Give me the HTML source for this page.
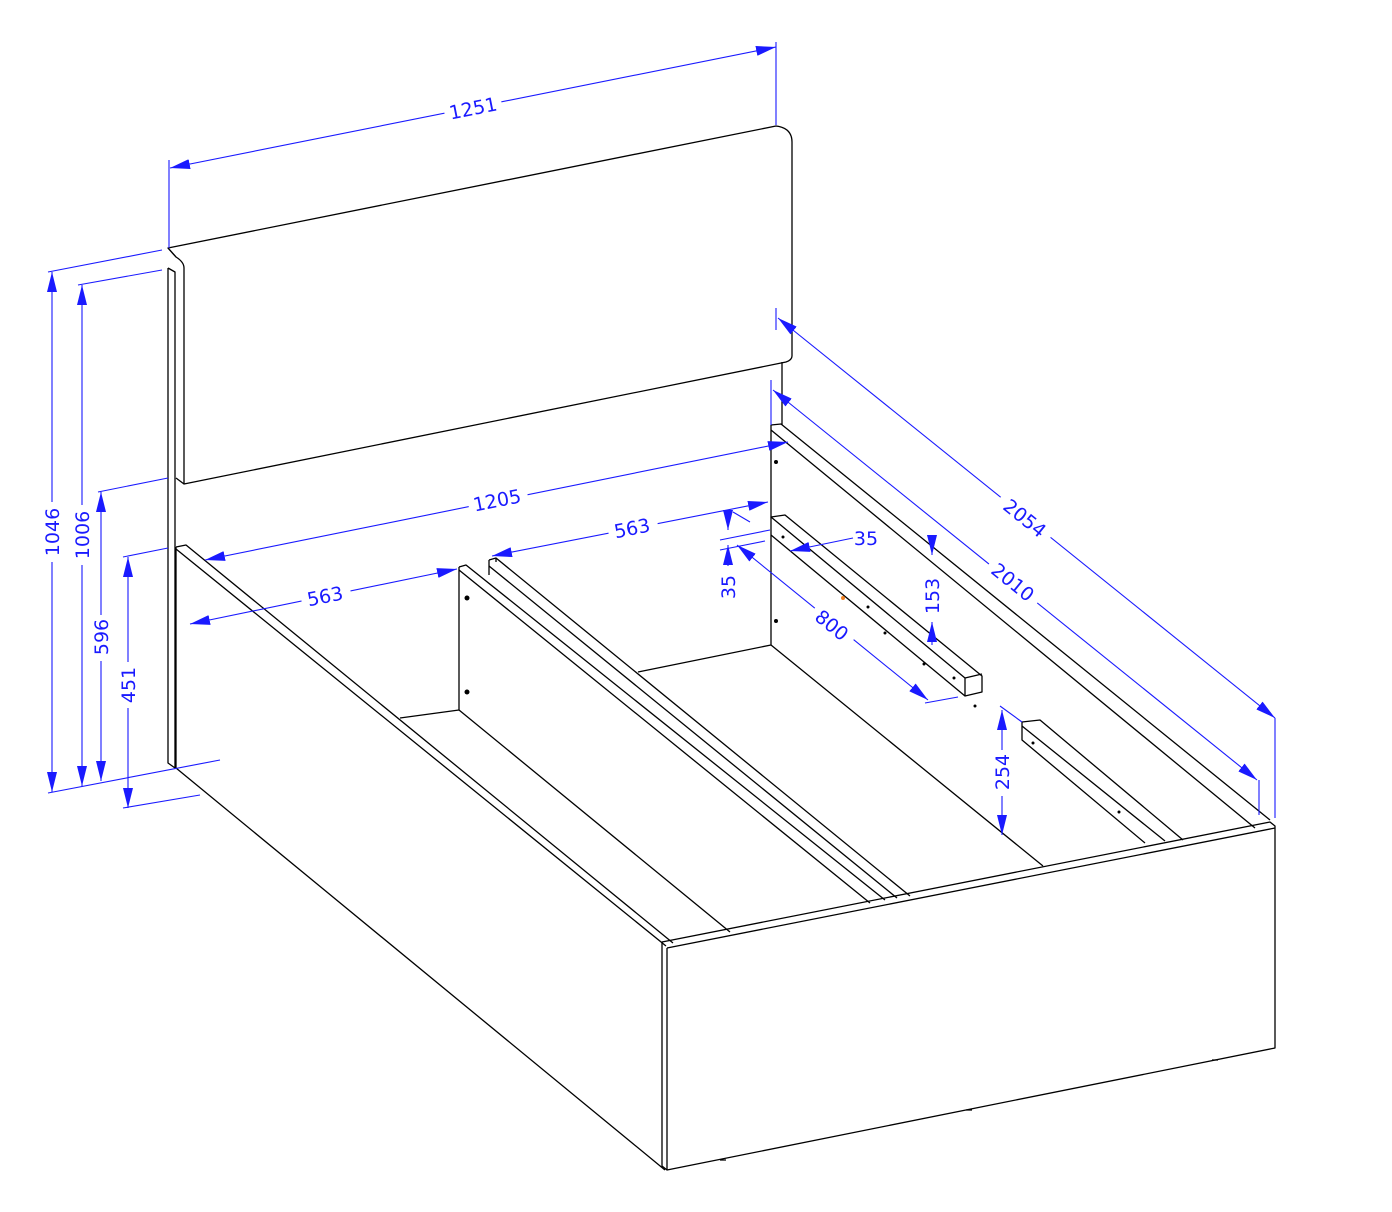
<!DOCTYPE html>
<html><head><meta charset="utf-8"><style>html,body{margin:0;padding:0;background:#fff}svg{display:block}</style></head>
<body>
<svg width="1392" height="1212" viewBox="0 0 1392 1212" xmlns="http://www.w3.org/2000/svg">
<defs>
<marker id="a" viewBox="0 0 20 10" refX="20" refY="5" markerWidth="20" markerHeight="10" markerUnits="userSpaceOnUse" orient="auto-start-reverse"><path d="M0,0L20,5L0,10z" fill="#1a1aff"/></marker>
</defs>
<g fill="none" stroke="#000" stroke-width="1.3" stroke-linejoin="round">
<path d="M168,248 L776,126 Q792,128 792,142 L792,356 Q792,360 786,362 L184,484 L184,268 Q184,262 176,257 Z"/>
<path d="M176,257 L168,248"/>
<path d="M184,484 L176,478"/>
<path d="M168,268 L168,763 L175,768 L175,272 L168,268"/>
<path d="M782,362 L782,425"/>
<path d="M771,425 L781,424 L1270,820"/>
<path d="M771,430 L1255,828"/>
<path d="M771,425 L771,645"/>
<path d="M176,547 L186,545 L673,943"/>
<path d="M176,549 L666,946"/>
<path d="M176,547 L176,768 L665,1170"/>
<path d="M662,942 L1270,822 L1275,826 L1275,1048 L667,1170 L662,1166 Z"/>
<path d="M667,948 L1275,828"/>
<path d="M667,948 L667,1170"/>
<path d="M400,718 L459,710 L730,932"/>
<path d="M638,672 L771,645 L1043,866"/>
<path d="M459,567 L459,710"/>
<path d="M459,567 L466,565 L885,900"/>
<path d="M459,570 L870,903"/>
<path d="M489,560 L489,575"/>
<path d="M489,560 L496,558 L910,896"/>
<path d="M489,566 L897,898"/>
<path d="M496,558 L496,562"/>
<path d="M771,517 L785,515 L982,676 L982,692 L965,696 L965,678 Z"/>
<path d="M965,678 L982,674"/>
<path d="M771,535 L965,696"/>
<path d="M1022,722 L1040,720 L1183,840"/>
<path d="M1022,722 L1022,740 L1145,843"/>
<path d="M1022,726 L1165,841"/>
<path d="M720,1160 L726,1160 M966,1110 L972,1110 M1212,1060 L1218,1060"/>
</g>
<g fill="#000">
<circle cx="467" cy="598" r="2.5"/><circle cx="467" cy="692" r="2.5"/>
<circle cx="776" cy="462" r="2"/><circle cx="776" cy="621" r="2"/>
<circle cx="783" cy="537" r="1.5"/><circle cx="868" cy="607" r="1.5"/><circle cx="885" cy="633" r="1.5"/><circle cx="924" cy="664" r="1.5"/><circle cx="954" cy="678" r="1.5"/><circle cx="975" cy="706" r="1.5"/>
<circle cx="1033" cy="743" r="1.5"/><circle cx="1119" cy="812" r="1.5"/>
</g>
<circle cx="843" cy="598" r="2" fill="#f08020"/>
<g stroke="#1a1aff" stroke-width="1.1" fill="none">
<path d="M169,160 L169,248 M776,42 L776,125"/>
<path d="M48,272 L162,250 M78,285 L162,270 M98,492 L168,478 M123,557 L168,548 M48,793 L220,760 M123,808 L200,795"/>
<path d="M776,308 L776,330 M1275,718 L1275,818 M771,380 L771,425 M1259,780 L1259,815"/>
<path d="M720,540 L770,530 M720,550 L765,541 M733,512 L750,522 M925,703 L958,697"/>
<path d="M1000,706 L1022,722"/>
<path d="M170,168 L776,47" marker-start="url(#a)" marker-end="url(#a)"/>
<path d="M778,318 L1275,718" marker-start="url(#a)" marker-end="url(#a)"/>
<path d="M773,390 L1257,780" marker-start="url(#a)" marker-end="url(#a)"/>
<path d="M205,560 L788,442" marker-start="url(#a)" marker-end="url(#a)"/>
<path d="M190,624 L457,569" marker-start="url(#a)" marker-end="url(#a)"/>
<path d="M492,556 L768,502" marker-start="url(#a)" marker-end="url(#a)"/>
<path d="M737,545 L928,700" marker-start="url(#a)" marker-end="url(#a)"/>
<path d="M728,510 L728,530" marker-end="url(#a)"/>
<path d="M728,575 L728,545" marker-end="url(#a)"/>
<path d="M853,538 L790,551" marker-end="url(#a)"/>
<path d="M932,540 L932,555" marker-end="url(#a)"/>
<path d="M932,622 L932,645" marker-start="url(#a)"/>
<path d="M1002,710 L1002,835" marker-start="url(#a)" marker-end="url(#a)"/>
<path d="M52,272 L52,792" marker-start="url(#a)" marker-end="url(#a)"/>
<path d="M82,285 L82,786" marker-start="url(#a)" marker-end="url(#a)"/>
<path d="M101,492 L101,781" marker-start="url(#a)" marker-end="url(#a)"/>
<path d="M128,557 L128,808" marker-start="url(#a)" marker-end="url(#a)"/>
</g>
<g font-family="DejaVu Sans, sans-serif" font-size="19" fill="#1a1aff" text-anchor="middle">
<g fill="#fff" stroke="none">
<rect x="444" y="96" width="58" height="22" transform="rotate(-11.3 473 108)"/>
<rect x="993" y="506" width="64" height="24" transform="rotate(39 1025 518)"/>
<rect x="983" y="570" width="62" height="24" transform="rotate(39 1013 582)"/>
<rect x="468" y="489" width="60" height="22" transform="rotate(-11.3 497 500)"/>
<rect x="301" y="585" width="50" height="22" transform="rotate(-11.3 325 596)"/>
<rect x="608" y="517" width="50" height="22" transform="rotate(-11.3 632 528)"/>
<rect x="808" y="613" width="50" height="24" transform="rotate(39 832 625)"/>
<rect x="40" y="502" width="24" height="60"/>
<rect x="70" y="505" width="24" height="60"/>
<rect x="89" y="615" width="24" height="46"/>
<rect x="116" y="662" width="24" height="46"/>
<rect x="716" y="566" width="24" height="36"/>
<rect x="920" y="574" width="24" height="46"/>
<rect x="990" y="750" width="24" height="46"/>
</g>
<text x="473" y="115" transform="rotate(-11.3 473 108)">1251</text>
<text x="1025" y="525" transform="rotate(39 1025 518)">2054</text>
<text x="1013" y="589" transform="rotate(39 1013 582)">2010</text>
<text x="497" y="507" transform="rotate(-11.3 497 500)">1205</text>
<text x="325" y="603" transform="rotate(-11.3 325 596)">563</text>
<text x="632" y="535" transform="rotate(-11.3 632 528)">563</text>
<text x="832" y="632" transform="rotate(39 832 625)">800</text>
<text x="866" y="545">35</text>
<text x="52" y="539" transform="rotate(-90 52 532)">1046</text>
<text x="82" y="542" transform="rotate(-90 82 535)">1006</text>
<text x="101" y="644" transform="rotate(-90 101 637)">596</text>
<text x="128" y="692" transform="rotate(-90 128 685)">451</text>
<text x="728" y="594" transform="rotate(-90 728 587)">35</text>
<text x="932" y="603" transform="rotate(-90 932 596)">153</text>
<text x="1002" y="779" transform="rotate(-90 1002 772)">254</text>
</g>
</svg>
</body></html>
